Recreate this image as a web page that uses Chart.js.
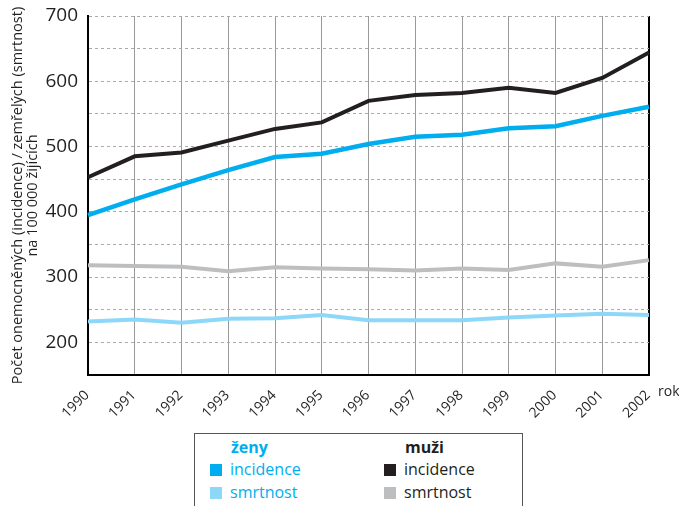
<!DOCTYPE html>
<html>
<head>
<meta charset="utf-8">
<script src="https://cdn.jsdelivr.net/npm/chart.js@4"></script>
<style>
  html, body { margin: 0; padding: 0; background: #fff; overflow: hidden; }
  #wrap { position: relative; width: 679px; height: 506px; }
  #chart { position: absolute; left: 0; top: 0; }
  #legend {
    position: absolute; left: 194px; top: 433px; width: 327px; height: 90px;
    border: 1px solid #555; border-bottom: none;
    font-family: "Open Sans", "Noto Sans", sans-serif; font-size: 16px;
  }
  .col { position: absolute; top: 0; }
  .head { position: absolute; font-weight: bold; top: 2px; }
  .row { position: absolute; white-space: nowrap; }
  .sw { display: inline-block; width: 12px; height: 12px; margin-right: 8px; vertical-align: -1px; }
</style>
</head>
<body>
<div id="wrap">
  <canvas id="chart" width="679" height="420"></canvas>
  <div id="legend"></div>
</div>
<script>
// data
const years = ['1990', '1991', '1992', '1993', '1994', '1995', '1996', '1997', '1998', '1999', '2000', '2001', '2002'];
const muziIncidence = [453, 485, 491, 509, 527, 537, 570, 579, 582, 590, 582, 605, 644];
const zenyIncidence = [395, 419, 442, 464, 484, 489, 504, 515, 518, 528, 531, 547, 561];
const muziSmrtnost = [318, 317, 316, 309, 315, 313, 312, 310, 313, 311, 321, 316, 326];
const zenySmrtnost = [232, 235, 230, 236, 237, 242, 234, 234, 234, 238, 241, 244, 242];
const yTickLabels = [200, 300, 400, 500, 600, 700];

const colors = {
    muziIncidence: '#231f20',
    zenyIncidence: '#00aeef',
    muziSmrtnost: '#bcbec0',
    zenySmrtnost: '#8dd8f8'
};

const line = (label, data, color, width) => ({
    label, data,
    borderColor: color,
    backgroundColor: color,
    borderWidth: width,
    pointRadius: 0,
    tension: 0,
    fill: false
});

// "rok" label to the right of the x axis
const rokLabel = {
    id: 'rokLabel',
    afterDraw(chart) {
        const { ctx, chartArea } = chart;
        ctx.save();
        ctx.font = '14px "Open Sans", sans-serif';
        ctx.fillStyle = '#231f20';
        ctx.textBaseline = 'middle';
        ctx.fillText('rok', chartArea.right + 9, chartArea.bottom + 17);
        ctx.restore();
    }
};

new Chart(document.getElementById('chart'), {
    type: 'line',
    data: {
        labels: years,
        datasets: [
            line('muži incidence', muziIncidence, colors.muziIncidence, 4),
            line('ženy incidence', zenyIncidence, colors.zenyIncidence, 4.5),
            line('muži smrtnost', muziSmrtnost, colors.muziSmrtnost, 4),
            line('ženy smrtnost', zenySmrtnost, colors.zenySmrtnost, 4)
        ]
    },
    options: {
        responsive: false,
        animation: false,
        devicePixelRatio: 1,
        layout: { padding: { top: 16, right: 30, left: 0, bottom: 0 } },
        plugins: {
            legend: { display: false },
            tooltip: { enabled: false }
        },
        scales: {
            x: {
                offset: false,
                grid: {
                    drawTicks: false,
                    color: (c) => c.index === years.length - 1 ? '#000' : '#999',
                    lineWidth: (c) => c.index === years.length - 1 ? 2 : 1
                },
                border: { color: '#000', width: 2 },
                ticks: {
                    minRotation: 45,
                    maxRotation: 45,
                    padding: 12,
                    labelOffset: -1,
                    color: '#231f20',
                    font: { family: '"Open Sans", sans-serif', size: 14 }
                },
                afterFit: (scale) => { scale.height = 45; }
            },
            y: {
                min: 150,
                max: 700,
                grid: { drawTicks: false, color: '#aaa', lineWidth: 1 },
                border: { color: '#000', width: 2, dash: [3, 3] },
                ticks: {
                    stepSize: 50,
                    padding: 10,
                    color: '#231f20',
                    font: { family: '"Open Sans", sans-serif', size: 19 },
                    callback: (v) => yTickLabels.includes(v) ? String(v) : ''
                },
                title: {
                    display: true,
                    text: ['Počet onemocněných (incidence) / zemřelých (smrtnost)', 'na 100 000 žijících'],
                    color: '#231f20',
                    font: { family: '"Open Sans", sans-serif', size: 14.5, lineHeight: 1.03 },
                    padding: { top: 10, bottom: 0 }
                },
                afterFit: (scale) => {
                    scale.width = 88;
                    scale.paddingTop = 11;
                    scale.paddingBottom = 11;
                }
            }
        }
    },
    plugins: [rokLabel]
});

// legend box below the chart
const legendCols = [
    { head: 'ženy', headColor: colors.zenyIncidence, textColor: colors.zenyIncidence, left: 15,
      rows: [['incidence', colors.zenyIncidence], ['smrtnost', colors.zenySmrtnost]] },
    { head: 'muži', headColor: '#231f20', textColor: '#231f20', left: 189,
      rows: [['incidence', colors.muziIncidence], ['smrtnost', colors.muziSmrtnost]] }
];
const legend = document.getElementById('legend');
legendCols.forEach(col => {
    const div = document.createElement('div');
    div.className = 'col';
    div.style.left = col.left + 'px';
    let html = `<div class="head" style="left:21px;color:${col.headColor}">${col.head}</div>`;
    col.rows.forEach(([text, color], i) => {
        html += `<div class="row" style="top:${24 + i * 23}px;color:${col.textColor}">` +
                `<span class="sw" style="background:${color}"></span>${text}</div>`;
    });
    div.innerHTML = html;
    legend.appendChild(div);
});
</script>
</body>
</html>
